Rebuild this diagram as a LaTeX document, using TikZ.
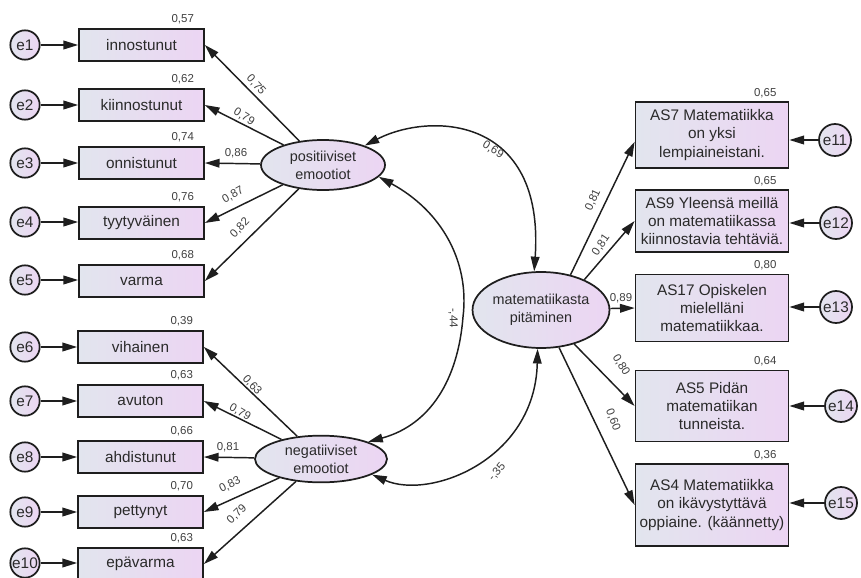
\documentclass[tikz,border=0pt]{standalone}
\usepackage{fontspec}
\setmainfont{Liberation Sans}
\usetikzlibrary{arrows.meta,shapes.geometric}
\definecolor{fillA}{HTML}{E2E5EE}
\definecolor{fillB}{HTML}{ECD5F3}
\definecolor{ink}{HTML}{1E1E1E}
\definecolor{txt}{HTML}{2A2A2A}
\definecolor{numc}{HTML}{404040}
\begin{document}
\begin{tikzpicture}[x=0.75pt,y=-0.75pt,
  every node/.style={text=txt},
  sh/.style={left color=fillA,right color=fillB,draw=ink,line width=1.3pt},
  obs/.style={sh,rectangle,minimum width=93.75pt,minimum height=24pt,inner sep=0pt,font=\fontsize{11.5}{13.75}\selectfont,align=center},
  robs/.style={sh,rectangle,minimum width=114.75pt,inner sep=0pt,font=\fontsize{11.5}{13.75}\selectfont,align=center},
  err/.style={sh,circle,minimum size=22pt,inner sep=0pt,font=\fontsize{11.5}{12}\selectfont},
  rerr/.style={err,minimum size=24pt},
  lat/.style={sh,ellipse,inner sep=0pt,font=\fontsize{10.8}{13.5}\selectfont,align=center},
  num/.style={font=\fontsize{8.6}{10}\selectfont,text=numc,inner sep=0.5pt},
  arr/.style={draw=ink,line width=1.1pt,-{Triangle[length=11pt,width=6.5pt]}},
  cov/.style={draw=ink,line width=1.1pt,{Triangle[length=11pt,width=6.5pt]}-{Triangle[length=11pt,width=6.5pt]}},
]
\useasboundingbox[fill=white] (0,0) rectangle (861,578);

% latent variables
\node[lat,minimum width=93pt,minimum height=37.5pt] (pos) at (323,165) {positiiviset\\emootiot};
\node[lat,minimum width=99pt,minimum height=35pt] (neg) at (321,459) {negatiiviset\\emootiot};
\node[lat,minimum width=101pt,minimum height=57pt] (mat) at (541,310) {matematiikasta\\pitäminen};

% left indicators
\node[obs] (b1) at (141.5,45) {innostunut};
\node[obs] (b2) at (141.5,105) {kiinnostunut};
\node[obs] (b3) at (141.5,163) {onnistunut};
\node[obs] (b4) at (141.5,223) {tyytyväinen};
\node[obs] (b5) at (141.5,281) {varma};
\node[obs] (b6) at (140.5,347) {vihainen};
\node[obs] (b7) at (140.5,401) {avuton};
\node[obs] (b8) at (140.5,457) {ahdistunut};
\node[obs] (b9) at (140.5,512) {pettynyt};
\node[obs] (b10) at (140.5,564) {epävarma};

% left errors
\foreach \i/\y in {1/45,2/105,3/163,4/222,5/280,6/347,7/401,8/457,9/512,10/563}{
  \node[err] (e\i) at (25,\y) {e\i};
  \draw[arr] (e\i) -- (e\i -| b\i.west);
}

% right indicators
\node[robs,minimum height=49.5pt] (r1) at (712,135) {AS7 Matematiikka\\on yksi\\lempiaineistani.};
\node[robs,minimum height=46.5pt] (r2) at (712,221) {AS9 Yleensä meillä\\on matematiikassa\\kiinnostavia tehtäviä.};
\node[robs,minimum height=50.25pt] (r3) at (712,308) {AS17 Opiskelen\\mielelläni\\matematiikkaa.};
\node[robs,minimum height=53.25pt] (r4) at (712,406) {AS5 Pidän\\matematiikan\\tunneista.};
\node[robs,minimum height=61.5pt] (r5) at (712,505) {AS4 Matematiikka\\on ikävystyttävä\\oppiaine. (käännetty)};

% right errors
\foreach \i/\x/\y [count=\k] in {11/835/140,12/836/223,13/836/307,14/841/406,15/841/503}{
  \node[rerr] (e\i) at (\x,\y) {e\i};
  \draw[arr] (e\i) -- (e\i -| r\k.east);
}

% variances (squared multiple correlations)
\foreach \n/\v in {b1/{0,57},b2/{0,62},b3/{0,74},b4/{0,76},b5/{0,68},b6/{0,39},b7/{0,63},b8/{0,66},b9/{0,70},b10/{0,63}}{
  \node[num,anchor=south east] (v\n) at ([xshift=-7.5pt,yshift=2.5pt]\n.north east) {\v};
}
\foreach \n/\v in {r1/{0,65},r2/{0,65},r3/{0,80},r4/{0,64},r5/{0,36}}{
  \node[num,anchor=south east] (v\n) at ([xshift=-9pt,yshift=2pt]\n.north east) {\v};
}

% loadings positive
\draw[arr] (pos) -- (b1.east);
\draw[arr] (pos) -- (b2.east);
\draw[arr] (pos) -- (b3.east);
\draw[arr] (pos) -- (b4.east);
\draw[arr] (pos) -- (b5.east);
\node[num,rotate=-48] (l1) at (256,85) {0,75};
\node[num,rotate=-32] (l2) at (244,117) {0,79};
\node[num] (l3) at (236,153) {0,86};
\node[num,rotate=30] (l4) at (233,195) {0,87};
\node[num,rotate=46] (l5) at (240,228) {0,82};

% loadings negative
\draw[arr] (neg) -- (b6.east);
\draw[arr] (neg) -- (b7.east);
\draw[arr] (neg) -- (b8.east);
\draw[arr] (neg) -- (b9.east);
\draw[arr] (neg) -- (b10.east);
\node[num,rotate=-47] (l6) at (252,385) {0,63};
\node[num,rotate=-30] (l7) at (240,412) {0,79};
\node[num] (l8) at (228,447) {0,81};
\node[num,rotate=27] (l9) at (230,485) {0,83};
\node[num,rotate=44] (l10) at (237,514) {0,79};

% loadings matematiikasta
\draw[arr] (mat.50) -- (r1.185);
\draw[arr] (mat.35) -- (r2.west);
\draw[arr] (mat) -- (r3.west);
\draw[arr] (mat) -- (r4.west);
\draw[arr] (mat) -- (r5.west);
\node[num,rotate=65] (l11) at (593,200) {0,81};
\node[num,rotate=56] (l12) at (601,245) {0,81};
\node[num] (l13) at (621,298) {0,89};
\node[num,rotate=-58] (l14) at (621,365) {0,80};
\node[num,rotate=-69] (l15) at (613,420) {0,60};

% covariances
\draw[cov] (pos.25) .. controls (430,112) and (545,115) .. (mat.100);
\draw[cov] (pos.-12) .. controls (440,210) and (470,260) .. (463,317) .. controls (458,380) and (430,425) .. (neg.20);
\draw[cov] (neg.-17) .. controls (430,500) and (535,460) .. (mat.-95);
\node[num,rotate=-32] (c1) at (493,150) {0,69};
\node[num,rotate=-90] (c2) at (453,318) {-,44};
\node[num,rotate=50] (c3) at (497,472) {-,35};
\end{tikzpicture}
\end{document}
